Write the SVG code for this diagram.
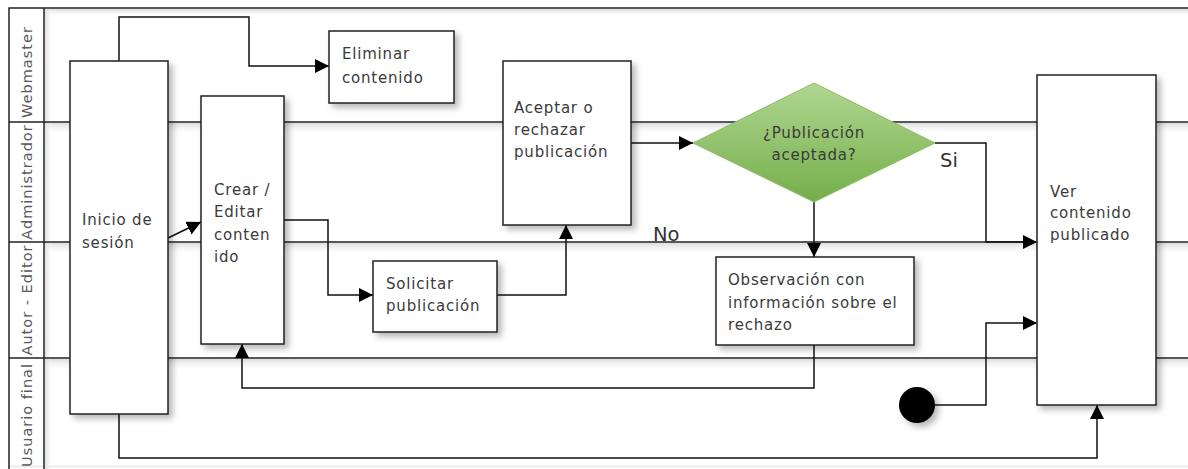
<svg xmlns="http://www.w3.org/2000/svg" width="1188" height="469" viewBox="0 0 1188 469">
<style>
.lane{stroke:#222;stroke-width:1.5;fill:none}
.box{fill:#fff;stroke:#222;stroke-width:1.5;filter:url(#sh)}
.t{font-family:"DejaVu Sans",Verdana,sans-serif;font-size:15px;letter-spacing:0.8px;fill:#3a3a3a}
.lbl{font-family:"DejaVu Sans",Verdana,sans-serif;font-size:14.5px;letter-spacing:1px;fill:#5a5a5a;text-anchor:middle}
.big{font-family:"DejaVu Sans",Verdana,sans-serif;font-size:19.5px;fill:#333}
.c{fill:none;stroke:#111;stroke-width:1.5}
.a{marker-end:url(#arr)}
</style>
<defs>
<filter id="sh" x="-20%" y="-20%" width="150%" height="150%">
<feDropShadow dx="4" dy="4" stdDeviation="3" flood-color="#000" flood-opacity="0.28"/>
</filter>
<linearGradient id="band" x1="0" y1="0" x2="0" y2="1">
<stop offset="0" stop-color="#dcdcdc"/>
<stop offset="1" stop-color="#ffffff" stop-opacity="0"/>
</linearGradient>
<linearGradient id="vband" x1="0" y1="0" x2="1" y2="0">
<stop offset="0" stop-color="#dcdcdc"/>
<stop offset="1" stop-color="#ffffff" stop-opacity="0"/>
</linearGradient>
<linearGradient id="green" x1="0" y1="0" x2="0" y2="1">
<stop offset="0" stop-color="#b1d792"/>
<stop offset="1" stop-color="#74ae49"/>
</linearGradient>
<marker id="arr" markerUnits="userSpaceOnUse" markerWidth="15" markerHeight="15" refX="14" refY="7" orient="auto">
<path d="M0,0 L14,7 L0,14 z" fill="#000"/>
</marker>
</defs>
<rect width="1188" height="469" fill="#fff"/>
<g id="lanes">
<rect x="44" y="9" width="1144" height="8" fill="url(#band)"/>
<rect x="44" y="123" width="1144" height="12" fill="url(#band)"/>
<rect x="44" y="243" width="1144" height="12" fill="url(#band)"/>
<rect x="44" y="359" width="1144" height="12" fill="url(#band)"/>
<rect x="45" y="9" width="8" height="460" fill="url(#vband)"/>
<line x1="9" y1="466.5" x2="1188" y2="466.5" stroke="#ececec" stroke-width="2"/>
<path class="lane" d="M9,469 V8 H1188 M44,8 V469 M9,122 H1188 M9,242 H1188 M9,358 H1188"/>
<text class="lbl" transform="translate(32,72) rotate(-90)">Webmaster</text>
<text class="lbl" transform="translate(32,182) rotate(-90)">Administrador</text>
<text class="lbl" transform="translate(32,300) rotate(-90)">Autor - Editor</text>
<text class="lbl" transform="translate(32,415) rotate(-90)">Usuario final</text>
</g>
<g id="connectors">
<path class="c a" d="M119,61 V17 H249 V66 H329"/>
<path class="c a" d="M168,238 L201,222"/>
<path class="c a" d="M284,220 H328 V295 H373"/>
<path class="c a" d="M497,295 H566 V225"/>
<path class="c a" d="M631,143 H693"/>
<path class="c a" d="M935,143 H986 V242 H1037"/>
<path class="c a" d="M814,202 V257"/>
<path class="c a" d="M814,345 V388 H242 V344"/>
<path class="c a" d="M119,414 V458 H1097 V405"/>
<path class="c a" d="M935,405 H986 V323 H1037"/>
<text class="big" x="940" y="167">Si</text>
<text class="big" x="653" y="241">No</text>
</g>
<g id="inicio">
<rect class="box" x="70" y="61" width="98" height="353"/>
<text class="t" x="82" y="225">Inicio de</text>
<text class="t" x="82" y="248">sesión</text>
</g>
<g id="crear">
<rect class="box" x="201" y="96" width="83" height="248"/>
<text class="t" x="214" y="195">Crear /</text>
<text class="t" x="214" y="217">Editar</text>
<text class="t" x="214" y="240">conten</text>
<text class="t" x="214" y="262">ido</text>
</g>
<g id="eliminar">
<rect class="box" x="329" y="31" width="125" height="72"/>
<text class="t" x="342" y="59">Eliminar</text>
<text class="t" x="342" y="83">contenido</text>
</g>
<g id="solicitar">
<rect class="box" x="373" y="261" width="124" height="71"/>
<text class="t" x="386" y="289">Solicitar</text>
<text class="t" x="386" y="311">publicación</text>
</g>
<g id="aceptar">
<rect class="box" x="503" y="61" width="128" height="164"/>
<text class="t" x="514" y="113">Aceptar o</text>
<text class="t" x="514" y="135">rechazar</text>
<text class="t" x="514" y="157">publicación</text>
</g>
<g id="decision">
<polygon points="814,83 935,143 814,202 693,143" fill="url(#green)" stroke="#8cbd69" stroke-width="1"/>
<text class="t" x="814" y="138" text-anchor="middle">¿Publicación</text>
<text class="t" x="814" y="160" text-anchor="middle">aceptada?</text>
</g>
<g id="observacion">
<rect class="box" x="716" y="257" width="198" height="88"/>
<text class="t" x="728" y="285">Observación con</text>
<text class="t" x="728" y="308">información sobre el</text>
<text class="t" x="728" y="330">rechazo</text>
</g>
<g id="ver">
<rect class="box" x="1037" y="75" width="119" height="330"/>
<text class="t" x="1050" y="197">Ver</text>
<text class="t" x="1050" y="218">contenido</text>
<text class="t" x="1050" y="240">publicado</text>
</g>
<g id="inicio-usuario">
<circle cx="917" cy="405" r="18" fill="#000" filter="url(#sh)"/>
</g>
</svg>
